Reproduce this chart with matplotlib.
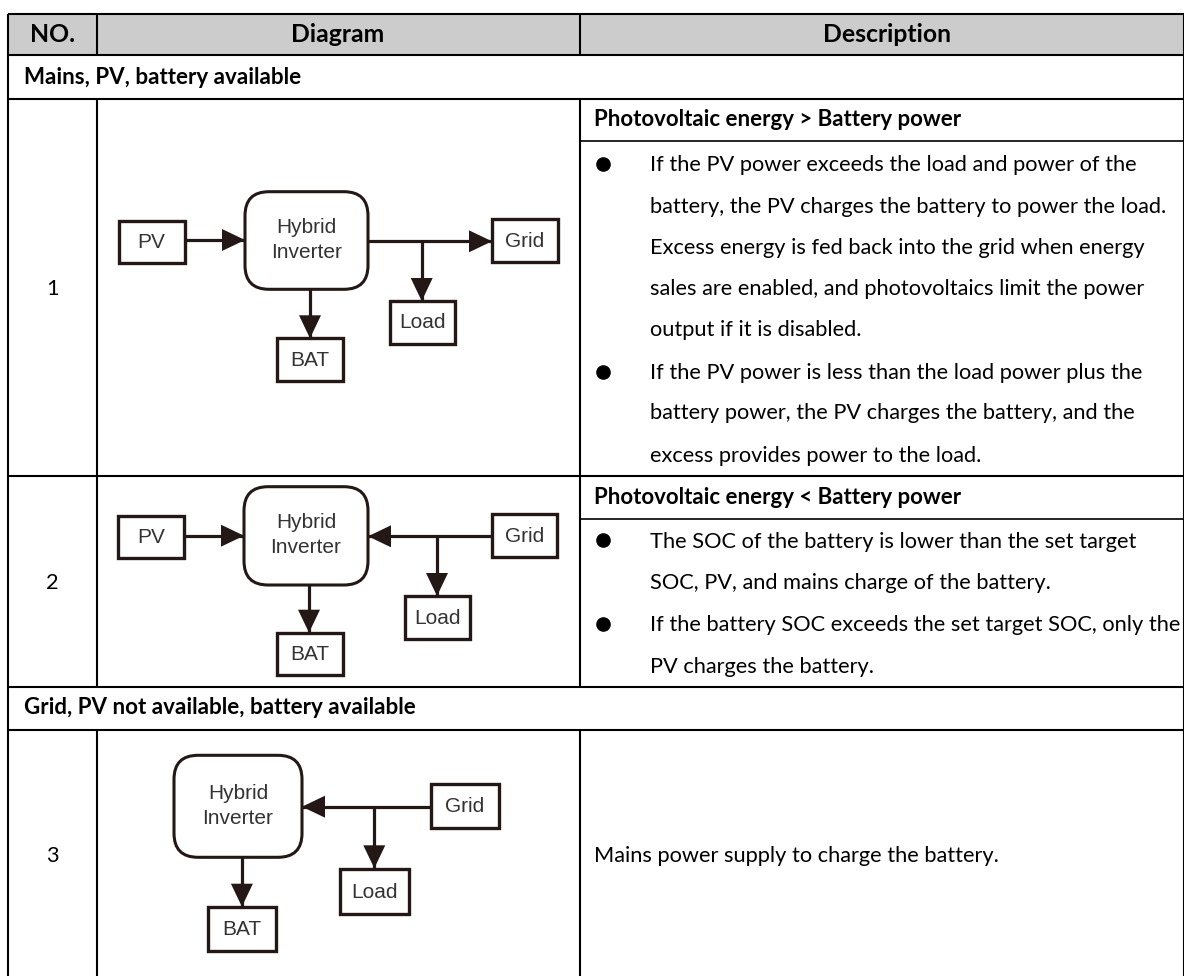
import matplotlib as mpl
mpl.use('Agg')
import matplotlib.pyplot as plt
from matplotlib.patches import Rectangle, FancyBboxPatch, Polygon

plt.rcParams['font.family'] = ['Lato', 'DejaVu Sans']

# table text
headers = ['NO.', 'Diagram', 'Description']
header_x = [52.4, 338, 887]
sections = ['Mains, PV, battery available', 'Grid, PV not available, battery available']
section_y = [77.7, 708]
row_numbers = ['1', '2', '3']
row_number_y = [288.7, 582.7, 855.7]
sub_titles = ['Photovoltaic energy > Battery power', 'Photovoltaic energy < Battery power']
sub_title_y = [120, 498]
body_lines = ['If the PV power exceeds the load and power of the',
              'battery, the PV charges the battery to power the load.',
              'Excess energy is fed back into the grid when energy',
              'sales are enabled, and photovoltaics limit the power',
              'output if it is disabled.',
              'If the PV power is less than the load power plus the',
              'battery power, the PV charges the battery, and the',
              'excess provides power to the load.',
              'The SOC of the battery is lower than the set target',
              'SOC, PV, and mains charge of the battery.',
              'If the battery SOC exceeds the set target SOC, only the',
              'PV charges the battery.']
body_y = [165, 206.7, 248, 289, 330, 373, 413, 456, 541.7, 582.7, 625, 666.7]
bullet_y = [163.5, 372, 540, 624]
plain_line = 'Mains power supply to charge the battery.'
plain_y = 856

# table grid, pixels
x_left, x_no, x_desc, x_right = 8.4, 97, 580, 1183.5
y_top, y_head, y_sec1, y_sub1, y_row1, y_sub2, y_row2, y_sec2 = 13.5, 55.3, 98.7, 140.7, 476, 519, 686.7, 729.5
y_bottom = 976

# diagram boxes: name -> (x0, x1, y0, y1), one dict per row
boxes_1 = {'PV': (118.6, 184.5, 220.7, 263.3), 'Grid': (492, 558, 219.3, 262),
           'Load': (389.6, 454.6, 301, 344), 'BAT': (276.7, 343.3, 338.3, 381)}
boxes_2 = {'PV': (117.9, 183.7, 516, 558.3), 'Grid': (491.8, 557, 514.3, 557),
           'Load': (404.5, 470, 596, 639), 'BAT': (276.7, 342.5, 632.7, 675)}
boxes_3 = {'Grid': (430.5, 499.4, 784, 828.3), 'Load': (339.8, 408.7, 869.3, 913.7),
           'BAT': (207.8, 276.3, 906.7, 951)}
inverters = [(245, 368, 191.7, 289.3), (244, 368, 486.7, 585), (174, 302, 755.3, 857.3)]

# arrows: (x0, y0, x1, y1), the head sits on the end
arrows_1 = [(184.5, 240, 245, 240), (368, 241.3, 492, 241.3), (421.7, 241.3, 421.7, 301), (310, 289.3, 310, 338.3)]
arrows_2 = [(183.7, 535.7, 244, 535.7), (491.8, 536.3, 368, 536.3), (437, 536.3, 437, 596), (309, 585, 309, 632.7)]
arrows_3 = [(430.5, 806.7, 302, 806.7), (374.3, 806.7, 374.3, 868.3), (241.9, 857.3, 241.9, 906.7)]

line_col = '#231815'
label_col = '#333333'
head_col = '#cccccc'
text_size = 15.7
bold_size = 16.1
head_size = 17.8
diag_size = 15

fig = plt.figure(figsize=(11.84, 9.76), dpi=100)
ax = fig.add_axes([0, 0, 1, 1])
ax.set_xlim(0, 1184)
ax.set_ylim(976, 0)
ax.axis('off')

ax.add_patch(Rectangle((x_left, y_top), x_right - x_left, y_head - y_top, fc=head_col, ec='none', zorder=0))


def hline(y, x0=x_left, x1=x_right, lw=1.5):
    ax.plot([x0, x1], [y, y], color='black', lw=lw, solid_capstyle='butt')


def vline(x, y0, y1, lw=1.5):
    ax.plot([x, x], [y0, y1], color='black', lw=lw, solid_capstyle='butt')


for y in [y_top, y_head, y_sec1, y_row1, y_row2, y_sec2]:
    hline(y)
hline(y_sub1, x_desc, x_right, 1.2)
hline(y_sub2, x_desc, x_right, 1.2)
vline(x_left, y_top, y_bottom)
vline(x_right, y_top, y_bottom)
for x in [x_no, x_desc]:
    vline(x, y_top, y_head)
    vline(x, y_sec1, y_row2)
    vline(x, y_sec2, y_bottom)

for t, x in zip(headers, header_x):
    ax.text(x, 35, t, fontsize=head_size, fontweight='bold', ha='center', va='center', color='black')
for t, y in zip(sections, section_y):
    ax.text(23.7, y, t, fontsize=bold_size, fontweight='bold', va='center', color='black')
for t, y in zip(row_numbers, row_number_y):
    ax.text(52.4, y, t, fontsize=text_size, ha='center', va='center', color='black')
for t, y in zip(sub_titles, sub_title_y):
    ax.text(594, y, t, fontsize=bold_size - 0.1, fontweight='bold', va='center', color='black')
for t, y in zip(body_lines, body_y):
    ax.text(650.5, y, t, fontsize=text_size, va='center', color='black')
ax.plot([603] * len(bullet_y), bullet_y, 'o', color='black', ms=9.5, ls='none')
ax.text(594, plain_y, plain_line, fontsize=text_size, va='center', color='black')


def draw_arrow(x0, y0, x1, y1):
    ax.plot([x0, x1], [y0, y1], color=line_col, lw=2.3, solid_capstyle='butt', zorder=2)
    size, half = 23, 11
    if y0 == y1:
        d = 1 if x1 > x0 else -1
        pts = [(x1, y1), (x1 - d * size, y1 - half), (x1 - d * size, y1 + half)]
    else:
        pts = [(x1, y1), (x1 - half, y1 - size), (x1 + half, y1 - size)]
    ax.add_patch(Polygon(pts, closed=True, fc=line_col, ec='none', zorder=3))


def draw_box(name, x0, x1, y0, y1):
    ax.add_patch(Rectangle((x0, y0), x1 - x0, y1 - y0, fc='white', ec=line_col, lw=2.4, zorder=2))
    ax.text((x0 + x1) / 2, (y0 + y1) / 2 + 0.5, name, family='Liberation Sans', fontsize=diag_size,
            ha='center', va='center', color=label_col, zorder=4)


for boxes, arrows, inv in zip([boxes_1, boxes_2, boxes_3], [arrows_1, arrows_2, arrows_3], inverters):
    for a in arrows:
        draw_arrow(*a)
    for name, b in boxes.items():
        draw_box(name, *b)
    x0, x1, y0, y1 = inv
    rad = 24
    ax.add_patch(FancyBboxPatch((x0 + rad, y0 + rad), x1 - x0 - 2 * rad, y1 - y0 - 2 * rad,
                                boxstyle='round,pad=%d,rounding_size=%d' % (rad, rad),
                                fc='white', ec=line_col, lw=2.2, zorder=2))
    xm = (x0 + x1) / 2
    ym = (y0 + y1) / 2
    ax.text(xm, ym - 13, 'Hybrid', family='Liberation Sans', fontsize=diag_size, ha='center', va='center',
            color=label_col, zorder=4)
    ax.text(xm, ym + 12, 'Inverter', family='Liberation Sans', fontsize=diag_size, ha='center', va='center',
            color=label_col, zorder=4)

fig.savefig('out.png', dpi=100, facecolor='white')
